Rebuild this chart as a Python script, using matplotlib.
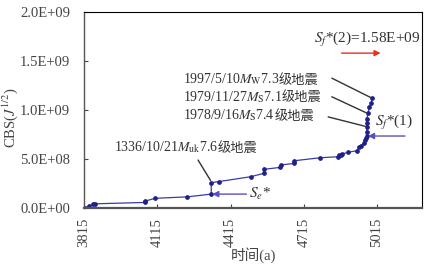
import matplotlib
matplotlib.use('Agg')
import matplotlib.pyplot as plt

# dados: tempo (a) e CBS (J^1/2)
tempo = [3819, 3837, 3850, 3860, 4065, 4065, 4105, 4238, 4336, 4336, 4366,
         4497, 4551, 4551, 4617, 4620, 4676, 4676, 4780, 4855, 4860, 4866,
         4871, 4895, 4932, 4943, 4948, 4962, 4967, 4970, 4973, 4973, 4973,
         4973, 4973, 4978, 4984, 4991, 4996]
cbs = [0.0, 0.02, 0.037, 0.044, 0.058, 0.071, 0.10, 0.115, 0.143, 0.26, 0.27,
       0.32, 0.354, 0.395, 0.415, 0.44, 0.456, 0.483, 0.513, 0.524, 0.538,
       0.545, 0.551, 0.568, 0.585, 0.62, 0.636, 0.666, 0.694, 0.712, 0.735,
       0.779, 0.83, 0.864, 0.905, 0.966, 1.034, 1.068, 1.119]
cbs = [v * 1e9 for v in cbs]

xticks = [3815, 4115, 4415, 4715, 5015]
yticks = [0.0, 0.5e9, 1.0e9, 1.5e9, 2.0e9]
ytick_labels = ['0.0E+00', '5.0E+08', '1.0E+09', '1.5E+09', '2.0E+09']

# terremotos: data, magnitude, ponto na curva
eventos = [
    ('1997/5/10$M_{\\rm W}$7.3', (4996, 1.119e9)),
    ('1979/11/27$M_{\\rm S}$7.1', (4976, 0.966e9)),
    ('1978/9/16$M_{\\rm S}$7.4', (4973, 0.83e9)),
    ('1336/10/21$M_{\\rm uk}$7.6', (4336, 0.27e9)),
]

se_star = 0.143e9
sf1 = 0.735e9
sf2 = 1.58e9

plt.rcParams['font.family'] = ['Liberation Serif', 'Noto Sans CJK SC']
plt.rcParams['mathtext.fontset'] = 'stix'
plt.rcParams['font.size'] = 10

fig = plt.figure(figsize=(4.29, 2.71), dpi=100)
ax = fig.add_axes([0.196, 0.232, 0.788, 0.724])

cor = '#3b3ba6'
ax.plot(tempo, cbs, color=cor, lw=0.9, marker='o', ms=2.4,
        mfc='#20208a', mec='#20208a')

ax.set_xlim(3815, 5200)
ax.set_ylim(0, 2.0e9)
ax.set_xticks(xticks)
ax.set_xticklabels([str(t) for t in xticks], rotation=90)
ax.set_yticks(yticks)
ax.set_yticklabels(ytick_labels)
ax.tick_params(direction='in', length=3, labelsize=10.5, colors='#444444')
ax.tick_params(axis='y', pad=10)
ax.tick_params(axis='x', pad=7)

for s in ['top', 'right']:
    ax.spines[s].set_linewidth(0.8)
ax.spines['left'].set_linewidth(1.0)
ax.spines['bottom'].set_linewidth(1.6)
ax.spines['bottom'].set_color('#555555')
ax.spines['left'].set_color('#555555')

ax.set_xlabel('时间(a)', fontsize=10.5, color='#444444', labelpad=0)
ax.set_ylabel('CBS($J^{1/2}$)', fontsize=10.5, color='#444444')
ax.yaxis.set_label_coords(-0.19, 0.46)

# anotações dos terremotos (texto com mathtext + parte em chinês)
cinza = '#333333'
pos_texto = [(4219, 1.316e9), (4219, 1.133e9), (4219, 0.949e9),
             (3937, 0.622e9)]
pos_linha = [(4830, 1.325e9), (4830, 1.135e9), (4815, 0.93e9),
             (4282, 0.49e9)]
for (txt, ponto), pt, pl in zip(eventos, pos_texto, pos_linha):
    t = ax.text(pt[0], pt[1], txt, fontsize=10, color=cinza,
                va='center', ha='left')
    ax.annotate('级地震', xy=(1, 0.38), xycoords=t, va='center', ha='left',
                fontsize=9.5, color=cinza)
    ax.annotate('', xy=ponto, xytext=pl,
                arrowprops=dict(arrowstyle='-', color=cinza, lw=1.0,
                                shrinkA=0, shrinkB=1))

# setas S_e*, S_f*(1), S_f*(2)
seta = '#5a4fc0'
ax.annotate('', xy=(4340, se_star), xytext=(4480, se_star),
            arrowprops=dict(arrowstyle='-|>', color=seta, lw=1.0,
                            mutation_scale=9, shrinkA=0, shrinkB=0))
ax.text(4492, se_star, '$S_e$*', fontsize=11, color=cinza, va='center')

ax.annotate('', xy=(4978, sf1), xytext=(5130, sf1),
            arrowprops=dict(arrowstyle='-|>', color=seta, lw=1.0,
                            mutation_scale=9, shrinkA=0, shrinkB=0))
ax.text(5005, 0.87e9, '$S_f$*(1)', fontsize=11, color=cinza, va='center')

ax.annotate('', xy=(5030, sf2), xytext=(4870, sf2),
            arrowprops=dict(arrowstyle='-|>', color='#e83020', lw=1.0,
                            mutation_scale=9, shrinkA=0, shrinkB=0))
ax.text(4755, 1.72e9, '$S_f$*(2)=1.58E+09', fontsize=11, color=cinza,
        va='center')

fig.savefig('out.png', dpi=100)
